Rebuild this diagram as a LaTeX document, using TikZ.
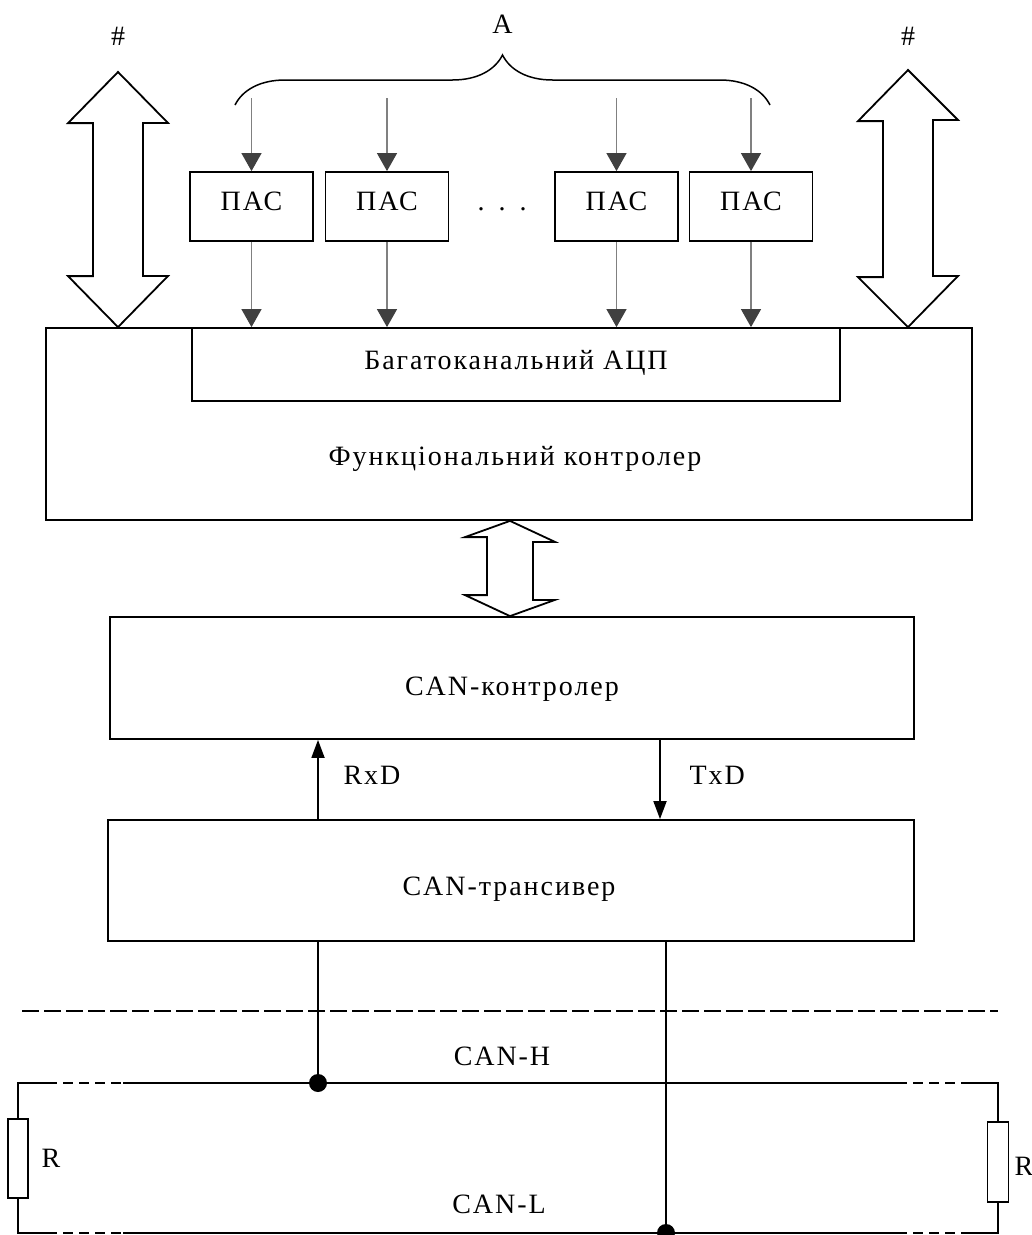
\documentclass[tikz,border=0pt]{standalone}
\usepackage{fontspec}
\setmainfont[LetterSpace=7]{Liberation Serif}
\usetikzlibrary{arrows.meta,decorations.pathreplacing}

% hollow double arrow: top tip, bottom tip, head half width, shaft half width, head length, shaft length
\newcommand\fatarrow[6]{%
  \draw[hollow] (#1) -- ++(#3,#5) -- ++(#4-#3,0) -- ++(0,#6) -- ++(#3-#4,0) -- (#2)
    -- ++(-#3,-#5) -- ++(#3-#4,0) -- ++(0,-#6) -- ++(#4-#3,0) -- cycle;}

\begin{document}
\begin{tikzpicture}[
    x=1pt, y=-1pt,
    every node/.style={font=\fontsize{28}{32}\selectfont, anchor=base},
    box/.style={draw, line width=1.8pt, inner sep=0pt, anchor=center},
    wire/.style={line width=1.8pt},
    feed/.style={draw=gray, line width=1.2pt, -{Triangle[length=18pt,width=20pt,color=darkgray]}},
    sig/.style={line width=1.8pt, -{Triangle[length=18pt,width=13pt]}},
    hollow/.style={draw, line width=1.8pt, fill=white, line join=miter},
    dot/.style={circle, fill, inner sep=0pt, minimum size=18pt, anchor=center},
    tail/.style={line width=1.8pt, dash pattern=on 10pt off 6pt},
    resistor/.style={draw, line width=1.8pt, fill=white, minimum width=20pt, minimum height=79pt, inner sep=0pt, anchor=center}
]
\useasboundingbox (0,0) rectangle (1032,1235);

% functional controller with ADC
\node (fc) [box, minimum width=926pt, minimum height=192pt] at (509,424) {};
\node (adc) [box, minimum width=648pt, minimum height=73pt] at (516,364.5) {};
\node (adctext) at (516,369) {Багатоканальний АЦП};
\node (fctext) at (515,465) {Функціональний контролер};

% signal conditioning channels
\foreach \i/\x in {1/251.5, 2/387, 3/616.5, 4/751} {
    \node (pas\i) [box, minimum width=123pt, minimum height=69pt] at (\x,206.5) {};
    \node (pastext\i) at (\x,210) {ПАС};
    \coordinate (in\i) at (\x,98);
    \draw[feed] (in\i) -- (pas\i.north);
    \draw[feed] (pas\i.south) -- (pas\i.south |- adc.north);
}
\node (dots) at (502,210) {.\hspace{14pt}.\hspace{14pt}.};
\draw[line width=1.5pt, decorate, decoration={brace, amplitude=50pt}] (235,105) -- (770,105);
\node (inA) at (502.5,33) {A};

% external buses
\node (hashL) at (118,45) {\#};
\node (hashR) at (908,45) {\#};
\coordinate (busL) at (118,72);
\coordinate (busR) at (908,70);
\fatarrow{busL}{busL |- fc.north}{50}{25}{51}{153}
\fatarrow{busR}{busR |- fc.north}{50}{25}{50}{156}

% CAN part
\node (canc) [box, minimum width=804pt, minimum height=122pt] at (512,678) {};
\node (canctext) at (512,695) {CAN-контролер};
\node (trx) [box, minimum width=806pt, minimum height=121pt] at (511,880.5) {};
\node (trxtext) at (509,895) {CAN-трансивер};
\fatarrow{fc.south -| 510,0}{canc.north -| 510,0}{45}{23}{21}{58}
\draw[sig] (trx.north -| 318,0) -- (canc.south -| 318,0);
\draw[sig] (canc.south -| 660,0) -- (trx.north -| 660,0);
\node (rxd) [anchor=base west] at (340,784) {RxD};
\node (txd) [anchor=base west] at (686,784) {TxD};

% separator
\draw[line width=1.5pt, dash pattern=on 17pt off 5pt] (22,1011) -- (998,1011);

% bus lines and terminators
\node (jH) [dot] at (318,1083) {};
\node (jL) [dot] at (666,1233) {};
\node (resL) [resistor] at (18,1158.5) {};
\node (resR) [resistor, minimum width=21pt, minimum height=80pt] at (998,1162) {};
\node (rL) [anchor=base west] at (38,1167) {R};
\node (rR) [anchor=base west] at (1011,1175) {R};
\node (canh) at (502,1065) {CAN-H};
\node (canl) at (499,1213) {CAN-L};

\coordinate (hA) at (47,1083);  \coordinate (hB) at (123,1083);
\coordinate (hC) at (897,1083); \coordinate (hD) at (968,1083);
\coordinate (lA) at (47,1233);  \coordinate (lB) at (123,1233);
\coordinate (lC) at (897,1233); \coordinate (lD) at (968,1233);

\draw[wire] (resL.north) |- (hA);
\draw[tail] (hA) -- (hB);
\draw[wire] (hB) -- (hC);
\draw[tail] (hC) -- (hD);
\draw[wire] (hD) -| (resR.north);
\draw[wire] (resL.south) |- (lA);
\draw[tail] (lA) -- (lB);
\draw[wire] (lB) -- (lC);
\draw[tail] (lC) -- (lD);
\draw[wire] (lD) -| (resR.south);

\draw[wire] (trx.south -| jH) -- (jH);
\draw[wire] (trx.south -| jL) -- (jL);
\end{tikzpicture}
\end{document}
